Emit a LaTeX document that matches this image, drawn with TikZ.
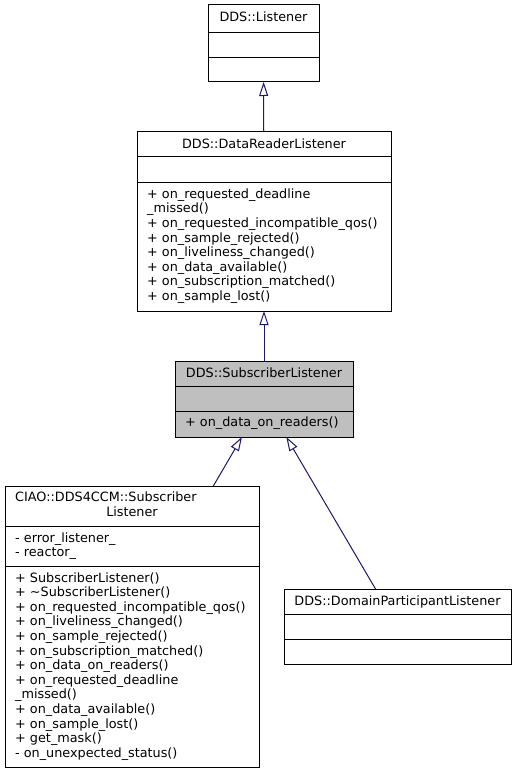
\documentclass[tikz,border=0pt]{standalone}
\usepackage{fontspec}
\setmainfont{DejaVu Sans}
\usetikzlibrary{positioning}
\usetikzlibrary{calc}
\usetikzlibrary{arrows.meta}
\definecolor{edge}{RGB}{25,25,112}
\definecolor{shade}{RGB}{191,191,191}

\begin{document}
\begin{tikzpicture}[x=1pt,y=-1pt]
			\tikzstyle{cls}=[draw=black, line width=1pt, inner sep=0pt, outer sep=0pt, anchor=north west]
			\tikzstyle{txt}=[inner sep=0pt, anchor=base west, align=left, font=\fontsize{12.8}{14.6}\selectfont]
			\tikzstyle{ttl}=[inner sep=0pt, anchor=base, font=\fontsize{12.8}{14.6}\selectfont]
			\tikzstyle{inherit}=[draw=edge, line width=1pt, -{Triangle[open, length=14pt, width=9pt]}]
			
			\useasboundingbox (0,0) rectangle (516,773);
			
			% anchor base = baseline of the last line
			\draw node at (208,5) [cls, minimum width=111pt, minimum height=77pt] (listener) {};
			\draw (listener.north west) ++(0,27) -- ++(111,0);
			\draw (listener.north west) ++(0,52) -- ++(111,0);
			\node at (263.5,22) [ttl] (listenerT) {DDS::Listener};
			
			\draw node at (137,131) [cls, minimum width=254pt, minimum height=180pt] (drl) {};
			\draw (drl.north west) ++(0,25) -- ++(254,0);
			\draw (drl.north west) ++(0,51) -- ++(254,0);
			\node at (264,148) [ttl] (drlT) {DDS::DataReaderListener};
			\node at (147,300.5) [txt] (drlM) {+ on\_requested\_deadline\\\_missed()\\+ on\_requested\_incompatible\_qos()\\+ on\_sample\_rejected()\\+ on\_liveliness\_changed()\\+ on\_data\_available()\\+ on\_subscription\_matched()\\+ on\_sample\_lost()};
			
			\draw node at (175,361) [cls, fill=shade, minimum width=178pt, minimum height=76pt] (sub) {};
			\draw (sub.north west) ++(0,25) -- ++(178,0);
			\draw (sub.north west) ++(0,50) -- ++(178,0);
			\node at (264,377) [ttl] (subT) {DDS::SubscriberListener};
			\node at (185,426) [txt] (subM) {+ on\_data\_on\_readers()};
			
			\draw node at (5,486) [cls, minimum width=254pt, minimum height=281pt] (ciao) {};
			\draw (ciao.north west) ++(0,40) -- ++(254,0);
			\draw (ciao.north west) ++(0,80) -- ++(254,0);
			\node at (15,501.7) [txt] (ciaoT) {CIAO::DDS4CCM::Subscriber};
			\node at (132,516.7) [ttl] (ciaoT2) {Listener};
			\node at (15,556.7) [txt] (ciaoA) {- error\_listener\_\\- reactor\_};
			\node at (15,757.3) [txt] (ciaoM) {+ SubscriberListener()\\+ \textasciitilde SubscriberListener()\\+ on\_requested\_incompatible\_qos()\\+ on\_liveliness\_changed()\\+ on\_sample\_rejected()\\+ on\_subscription\_matched()\\+ on\_data\_on\_readers()\\+ on\_requested\_deadline\\\_missed()\\+ on\_data\_available()\\+ on\_sample\_lost()\\+ get\_mask()\\- on\_unexpected\_status()};
			
			\draw node at (284,589) [cls, minimum width=227pt, minimum height=75pt] (dpl) {};
			\draw (dpl.north west) ++(0,25) -- ++(227,0);
			\draw (dpl.north west) ++(0,50) -- ++(227,0);
			\node at (397.5,605) [ttl] (dplT) {DDS::DomainParticipantListener};
			
			\draw [inherit] (drl) -- (listener);
			\draw [inherit] (sub) -- (drl);
			\draw [inherit] (ciao) -- (sub);
			\draw [inherit] (dpl) -- (sub);
\end{tikzpicture}
\end{document}
